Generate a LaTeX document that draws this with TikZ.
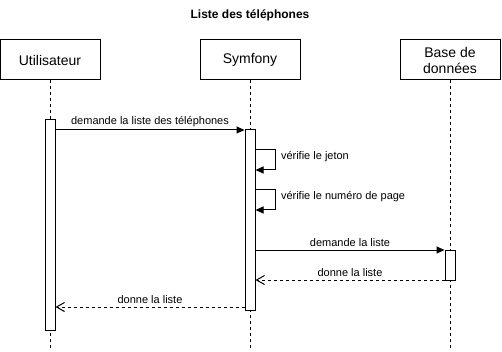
\documentclass[tikz,border=0pt]{standalone}
\usepackage{fontspec}
\setmainfont{Liberation Sans}
\usetikzlibrary{positioning,arrows.meta}

\begin{document}
\begin{tikzpicture}[x=1pt, y=-1pt, line width=1pt]
    % Define styles
    \tikzset{participant/.style={draw, rectangle, minimum width=100pt, minimum height=40pt, align=center, font=\fontsize{14}{16}\selectfont}}
    \tikzset{activation/.style={draw, fill=white, rectangle, minimum width=10pt, inner sep=0pt}}
    \tikzset{lifeline/.style={dash pattern=on 3pt off 3pt}}
    \tikzset{call/.style={-{Triangle[length=8pt,width=7pt]}}}
    \tikzset{reply/.style={dash pattern=on 3pt off 3pt, -{Straight Barb[length=8pt,width=9pt]}}}
    \tikzset{msglabel/.style={font=\fontsize{11}{13}\selectfont, inner sep=1pt}}

    \useasboundingbox (0,0) rectangle (502,352);

    % Title
    \node[font=\bfseries\fontsize{12}{14}\selectfont] (title) at (250,15) {Liste des téléphones};

    % Draw participants
    \node[participant] (user) at (50,60) {Utilisateur};
    \node[participant] (symfony) at (250,60) {Symfony};
    \node[participant] (db) at (450,60) {Base de\\données};

    % Draw lifelines
    \coordinate (userend) at (50,350);
    \coordinate (symfonyend) at (250,350);
    \coordinate (dbend) at (450,350);
    \draw[lifeline] (user) -- (userend);
    \draw[lifeline] (symfony) -- (symfonyend);
    \draw[lifeline] (db) -- (dbend);

    % Draw activations
    \node[activation, minimum height=210pt] (useract) at (50,225) {};
    \node[activation, minimum height=180pt] (symfonyact) at (250,220) {};
    \node[activation, minimum height=30pt] (dbact) at (450,265) {};

    % Message heights
    \coordinate (m1) at (0,130);
    \coordinate (m2) at (0,150);
    \coordinate (m2b) at (0,170);
    \coordinate (m3) at (0,190);
    \coordinate (m3b) at (0,210);
    \coordinate (m4) at (0,250);
    \coordinate (m5) at (0,280);
    \coordinate (m6) at (0,307);

    % Draw messages
    \draw[call] (useract.east |- m1) -- (symfonyact.west |- m1) node[midway, above=2pt, msglabel] {demande la liste des téléphones};
    \draw[call] (symfonyact.east |- m2) -- ++(20,0) |- (symfonyact.east |- m2b) node[pos=0.17, right=4pt, msglabel] {vérifie le jeton};
    \draw[call] (symfonyact.east |- m3) -- ++(20,0) |- (symfonyact.east |- m3b) node[pos=0.17, right=4pt, msglabel] {vérifie le numéro de page};
    \draw[call] (symfonyact.east |- m4) -- (dbact.west |- m4) node[midway, above=2pt, msglabel] {demande la liste};
    \draw[reply] (dbact.west |- m5) -- (symfonyact.east |- m5) node[midway, above=2pt, msglabel] {donne la liste};
    \draw[reply] (symfonyact.west |- m6) -- (useract.east |- m6) node[midway, above=2pt, msglabel] {donne la liste};

\end{tikzpicture}
\end{document}
